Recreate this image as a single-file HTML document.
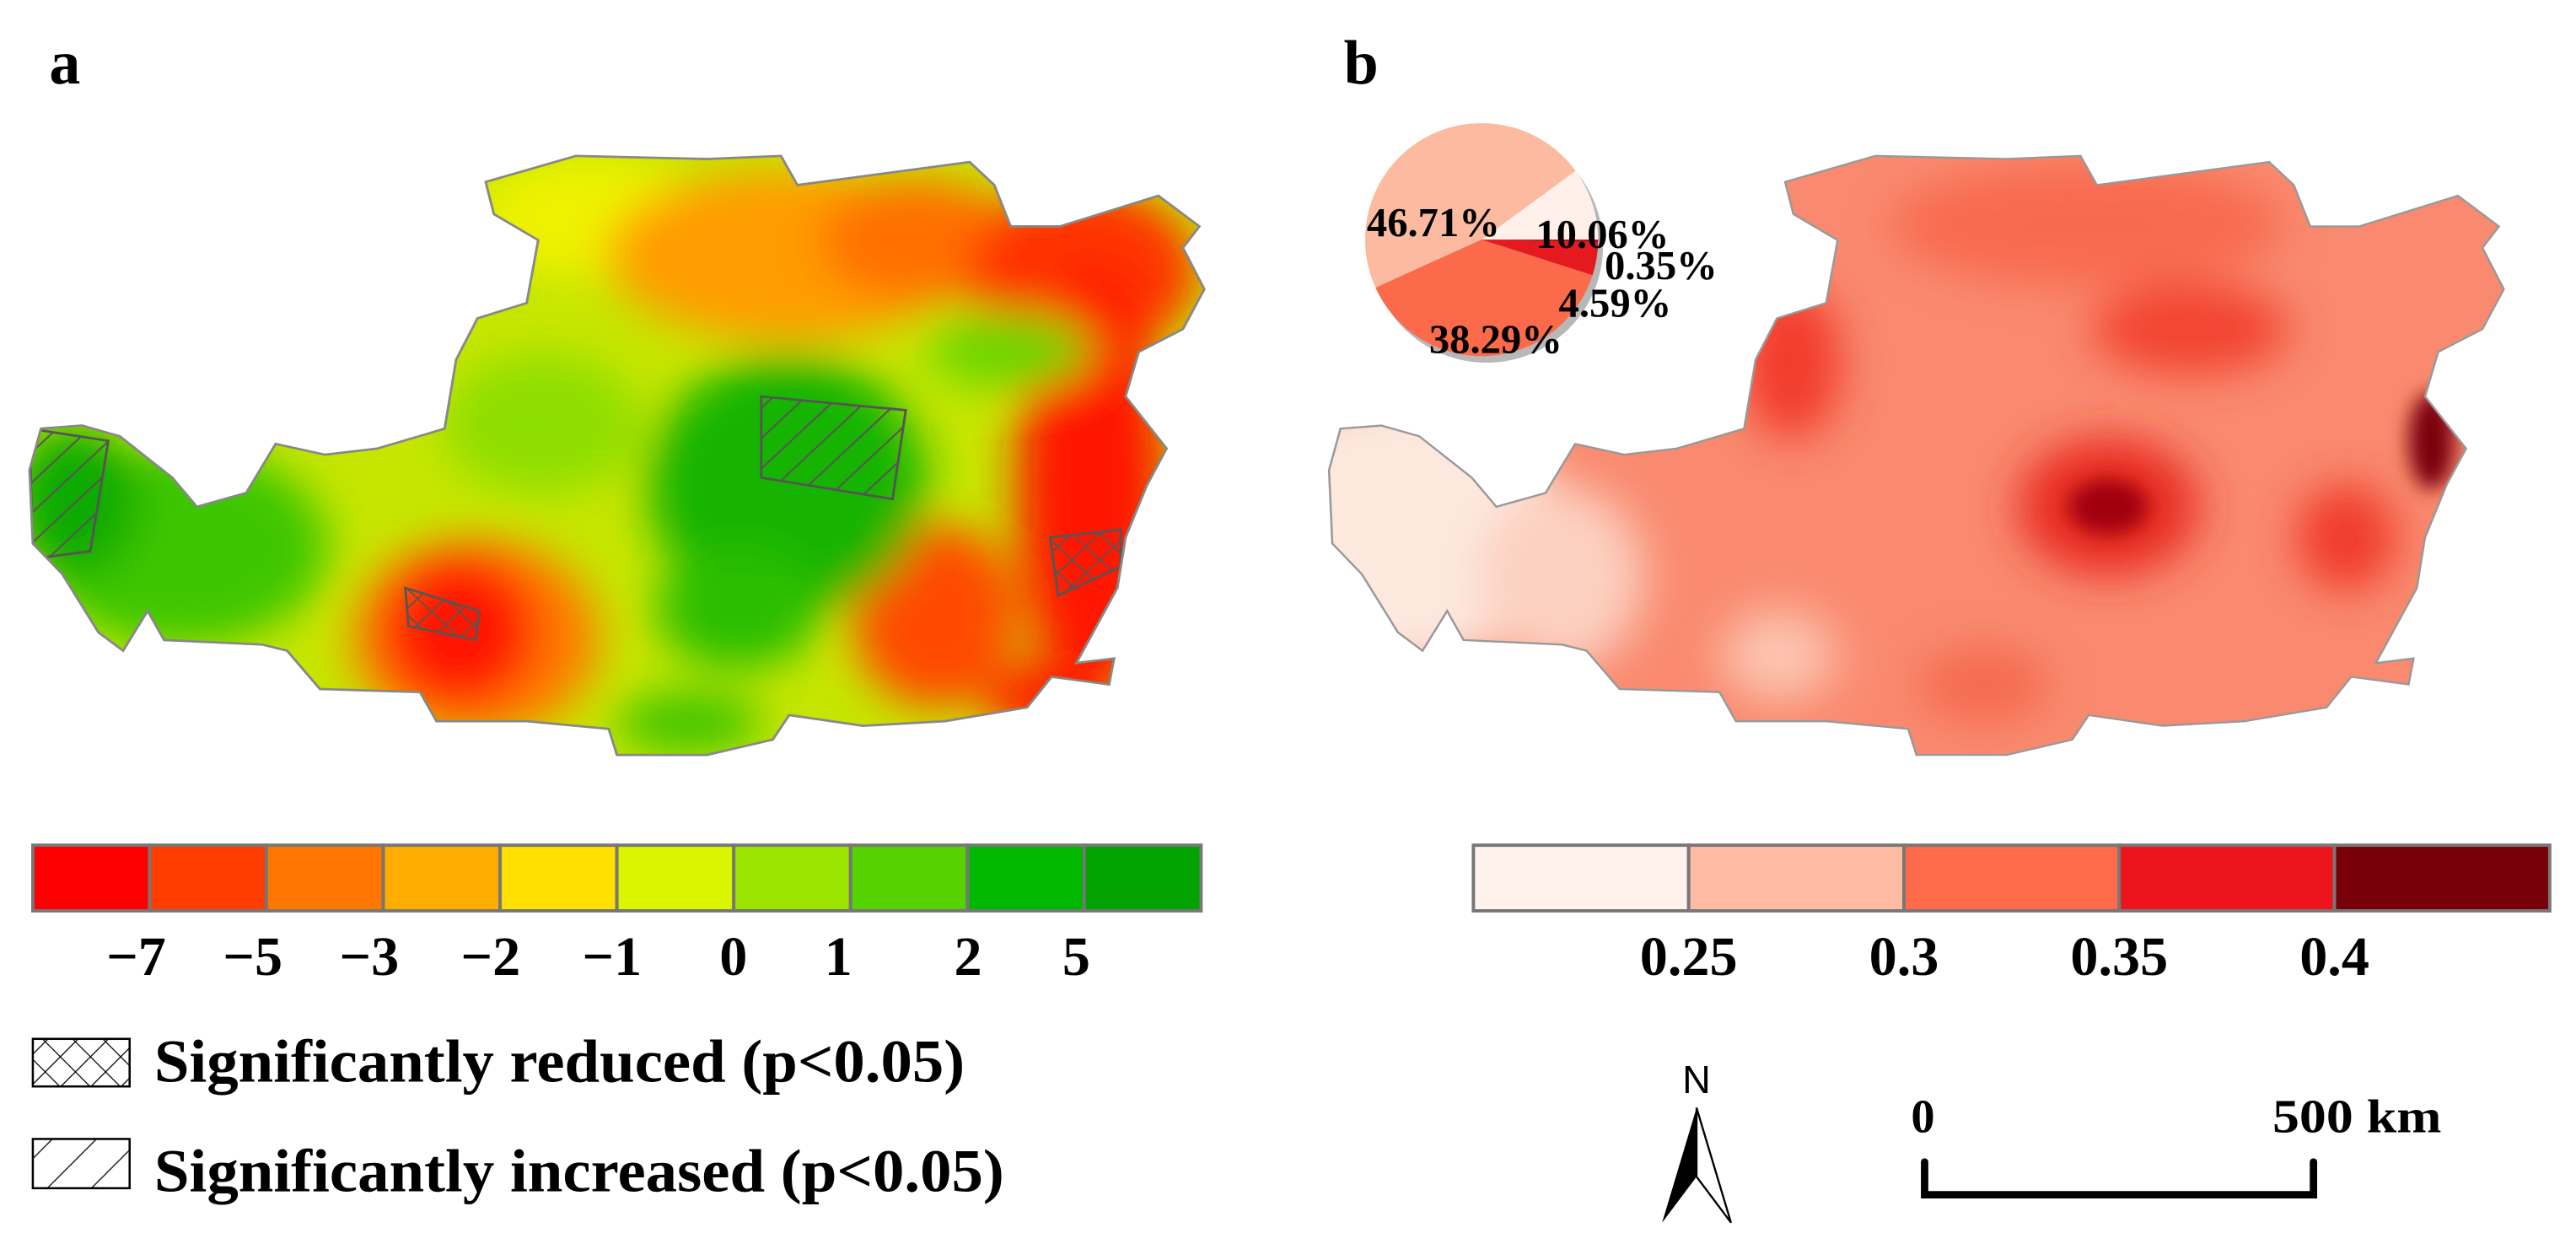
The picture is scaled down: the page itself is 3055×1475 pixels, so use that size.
<!DOCTYPE html>
<html><head><meta charset="utf-8"><style>
html,body{margin:0;padding:0;background:#fff;}
svg{display:block;}
text{font-family:"Liberation Serif",serif;font-weight:bold;fill:#000;}
</style></head><body>
<svg id="fig" width="3055" height="1475" viewBox="0 0 1570 758" preserveAspectRatio="none" xmlns="http://www.w3.org/2000/svg">
<defs>
  <clipPath id="clipA"><polygon id="outlinePts" points="296,102 351,85 431,87 476,85 486,104 591,89 606,104 616,131 646,131 706,111 731,131 721,145 734,172 721,198 694,213 686,242 711,276 699,300 686,334 681,367 656,416 679,413 676,430 641,425 626,445 576,454 526,457 481,450 471,466 431,476 376,476 371,459 321,454 266,454 256,435 195,433 175,408 160,404 100,401 90,382 75,408 60,396 38,358 20,338 18,290 25,263 50,261 73,268 105,295 120,314 150,305 168,273 198,280 230,276 271,263 278,218 291,191 321,181 328,140 301,123"/></clipPath>
  <filter id="blur" x="-20%" y="-20%" width="140%" height="140%"><feGaussianBlur stdDeviation="14"/></filter>
  <filter id="blur2" x="-20%" y="-20%" width="140%" height="140%"><feGaussianBlur stdDeviation="6"/></filter>
  <pattern id="hatch" patternUnits="userSpaceOnUse" width="14" height="14" patternTransform="rotate(45)">
    <line x1="0" y1="0" x2="0" y2="14" stroke="#555" stroke-width="2.2"/></pattern>
  <pattern id="cross" patternUnits="userSpaceOnUse" width="12" height="12" patternTransform="rotate(45)">
    <line x1="0" y1="0" x2="0" y2="12" stroke="#555" stroke-width="1.8"/><line x1="0" y1="0" x2="12" y2="0" stroke="#555" stroke-width="1.8"/></pattern>
  <pattern id="lhatch" patternUnits="userSpaceOnUse" width="19" height="19" patternTransform="rotate(45)">
    <line x1="0" y1="0" x2="0" y2="19" stroke="#000" stroke-width="1.3"/></pattern>
  <pattern id="lcross" patternUnits="userSpaceOnUse" width="13" height="13" patternTransform="rotate(45)">
    <line x1="0" y1="0" x2="0" y2="13" stroke="#000" stroke-width="1.3"/><line x1="0" y1="0" x2="13" y2="0" stroke="#000" stroke-width="1.3"/></pattern>
</defs>

<text x="30" y="51" font-size="38">a</text>
<text x="819" y="51" font-size="38">b</text>

<!-- Map A -->
<g transform="matrix(1,0,0,0.9335,0,15.65)">
  <g clip-path="url(#clipA)">
    <rect x="0" y="70" width="760" height="420" fill="#c6e600"/>
    <g filter="url(#blur)">
      <ellipse cx="360" cy="125" rx="70" ry="40" fill="#eef200"/>
      <ellipse cx="480" cy="150" rx="110" ry="55" fill="#ff9c00"/>
      <ellipse cx="560" cy="140" rx="60" ry="40" fill="#ff7000"/>
      <ellipse cx="660" cy="160" rx="70" ry="55" fill="#ff3000"/>
      <ellipse cx="665" cy="300" rx="45" ry="140" fill="#ff1200"/>
      <ellipse cx="615" cy="212" rx="50" ry="25" fill="#6cd600"/>
      <ellipse cx="330" cy="260" rx="60" ry="45" fill="#8ede00"/>
      <ellipse cx="290" cy="400" rx="75" ry="65" fill="#ff7a00"/>
      <ellipse cx="280" cy="395" rx="48" ry="50" fill="#ff1400"/>
      <ellipse cx="110" cy="340" rx="90" ry="65" fill="#3ec600"/>
      <ellipse cx="45" cy="310" rx="40" ry="50" fill="#10aa00"/>
      <ellipse cx="570" cy="385" rx="50" ry="60" fill="#ff4a00"/>
      <ellipse cx="640" cy="440" rx="40" ry="25" fill="#ff2000"/>
      <ellipse cx="420" cy="455" rx="45" ry="20" fill="#40c400"/>
      <ellipse cx="480" cy="300" rx="85" ry="85" fill="#12b400"/>
      <ellipse cx="450" cy="380" rx="50" ry="40" fill="#2cbe00"/>
    </g>
    <polygon points="464,242 552,251 544,309 464,295" fill="url(#hatch)" stroke="#555" stroke-width="1.5"/>
    <polygon points="18,263 66,271 55,343 20,348" fill="url(#hatch)" stroke="#555" stroke-width="1.5"/>
    <polygon points="247,367 292,382 290,401 249,392" fill="url(#cross)" stroke="#555" stroke-width="1.5"/>
    <polygon points="640,334 683,329 683,353 645,372" fill="url(#cross)" stroke="#555" stroke-width="1.5"/>
  </g>
  <use href="#outlinePts" fill="none" stroke="#888" stroke-width="1.5"/>
</g>

<!-- Map B -->
<g transform="matrix(1,0,0,0.9335,792,15.65)">
  <g clip-path="url(#clipA)">
    <rect x="0" y="70" width="760" height="420" fill="#f98a6f"/>
    <g filter="url(#blur)">
      <ellipse cx="60" cy="330" rx="100" ry="90" fill="#fde8de"/>
      <ellipse cx="160" cy="360" rx="50" ry="60" fill="#fcd0c0"/>
      <ellipse cx="292" cy="411" rx="35" ry="30" fill="#fcc4b0"/>
      <ellipse cx="480" cy="130" rx="120" ry="40" fill="#f86a50"/>
      <ellipse cx="543" cy="198" rx="60" ry="30" fill="#f24430"/>
      <ellipse cx="300" cy="220" rx="30" ry="50" fill="#f23a2a"/>
      <ellipse cx="638" cy="334" rx="30" ry="35" fill="#f03a2a"/>
      <ellipse cx="417" cy="430" rx="40" ry="25" fill="#f56a50"/>
      <ellipse cx="493" cy="314" rx="55" ry="45" fill="#e82a22"/>
    </g>
    <g filter="url(#blur2)">
      <ellipse cx="493" cy="314" rx="24" ry="18" fill="#a00010"/>
      <ellipse cx="690" cy="271" rx="14" ry="32" fill="#7a0008"/>
    </g>
  </g>
  <use href="#outlinePts" fill="none" stroke="#999" stroke-width="1.3"/>
</g>

<!-- Colorbars -->
<g id="cbA"></g>
<g id="cbB"></g>

<!-- Legend -->
<g>
  <rect x="20" y="633" width="59" height="29" fill="url(#lcross)" stroke="#000" stroke-width="1.3"/>
  <text x="94" y="659" font-size="37" textLength="494" lengthAdjust="spacingAndGlyphs">Significantly reduced (p&lt;0.05)</text>
</g>
<g>
  <rect x="20" y="694" width="59" height="30" fill="url(#lhatch)" stroke="#000" stroke-width="1.3"/>
  <text x="94" y="726" font-size="37" textLength="518" lengthAdjust="spacingAndGlyphs">Significantly increased (p&lt;0.05)</text>
</g>

<!-- Pie -->
<g id="pie"></g>

<!-- North arrow -->
<g>
  <text x="1034" y="666" font-size="24" text-anchor="middle" style="font-family:'Liberation Sans',sans-serif;font-weight:normal">N</text>
  <polygon points="1034,675 1034,717 1013,745" fill="#000"/>
  <polygon points="1034,675 1034,717 1055,745" fill="#fff" stroke="#000" stroke-width="1.2"/>
</g>

<!-- Scale bar -->
<g>
  <text x="1172" y="690" font-size="29" text-anchor="middle">0</text>
  <text x="1385" y="690" font-size="29" textLength="103" lengthAdjust="spacingAndGlyphs">500 km</text>
  <path d="M1173,708 V728 H1410 V708" fill="none" stroke="#000" stroke-width="4.5" stroke-linecap="round"/>
</g>

<script>
const cbAColors = ["#ff0000","#ff3d00","#ff7600","#ffac00","#ffe000","#d9f500","#9ae400","#54d300","#00b800","#00a300"];
const cbALabels = ["\u22127","\u22125","\u22123","\u22122","\u22121","0","1","2","5"];
const cbALabelX = [83,154,225,299,373,447,511,590,656];
const cbBColors = ["#fff1ec","#fdbba3","#fe6a4a","#ee141d","#780008"];
const cbBLabels = ["0.25","0.3","0.35","0.4"];
const pieValues = [10.06, 46.71, 38.29, 4.59, 0.35];
const pieLabels = ["10.06%","46.71%","38.29%","4.59%","0.35%"];
const pieColors = ["#fff0ea","#fcbba1","#fb6a4a","#e51a20","#a50f15"];
const NS = "http://www.w3.org/2000/svg";
function mk(tag, attrs, parent){const e=document.createElementNS(NS,tag);for(const k in attrs)e.setAttribute(k,attrs[k]);parent.appendChild(e);return e;}

function colorbar(g, colors, x0, x1, y0, y1){
  const w=(x1-x0)/colors.length;
  colors.forEach((c,i)=>{
    const r=mk("rect",{x:x0+i*w,y:y0,width:w,height:y1-y0,fill:c,stroke:"#777","stroke-width":2},g);
    
    
  });
  return w;
}
const gA=document.getElementById("cbA");
colorbar(gA,cbAColors,20,732,515,555);
cbALabels.forEach((t,i)=>{
  const e=mk("text",{x:cbALabelX[i],y:594,"font-size":34,"text-anchor":"middle"},gA);e.textContent=t;
  
  
});
const gB=document.getElementById("cbB");
const wB=colorbar(gB,cbBColors,898,1554,515,555);
cbBLabels.forEach((t,i)=>{
  const e=mk("text",{x:898+wB*(i+1),y:594,"font-size":34,"text-anchor":"middle"},gB);e.textContent=t;
  
  
});

// Pie
const pg=document.getElementById("pie");
const cx=903, cy=146, R=71;
mk("circle",{cx:cx+3,cy:cy+4,r:R,fill:"#b8b8b8"},pg);
const total=pieValues.reduce((a,b)=>a+b,0);
let a0=0;
const labelPos=[[936,151],[833,144],[871,215],[950,193],[978,170]];
pieValues.forEach((v,i)=>{
  const a1=a0+v/total*2*Math.PI;
  const x0=cx+R*Math.cos(a0), y0=cy-R*Math.sin(a0);
  const x1=cx+R*Math.cos(a1), y1=cy-R*Math.sin(a1);
  const large=(a1-a0)>Math.PI?1:0;
  const p=mk("path",{d:`M${cx},${cy} L${x0},${y0} A${R},${R} 0 ${large} 0 ${x1},${y1} Z`,fill:pieColors[i]},pg);
  
  
  a0=a1;
});
pieLabels.forEach((t,i)=>{
  const e=mk("text",{x:labelPos[i][0],y:labelPos[i][1],"font-size":25},pg);e.textContent=t;
  
  
});
</script>
</svg>
</body></html>
